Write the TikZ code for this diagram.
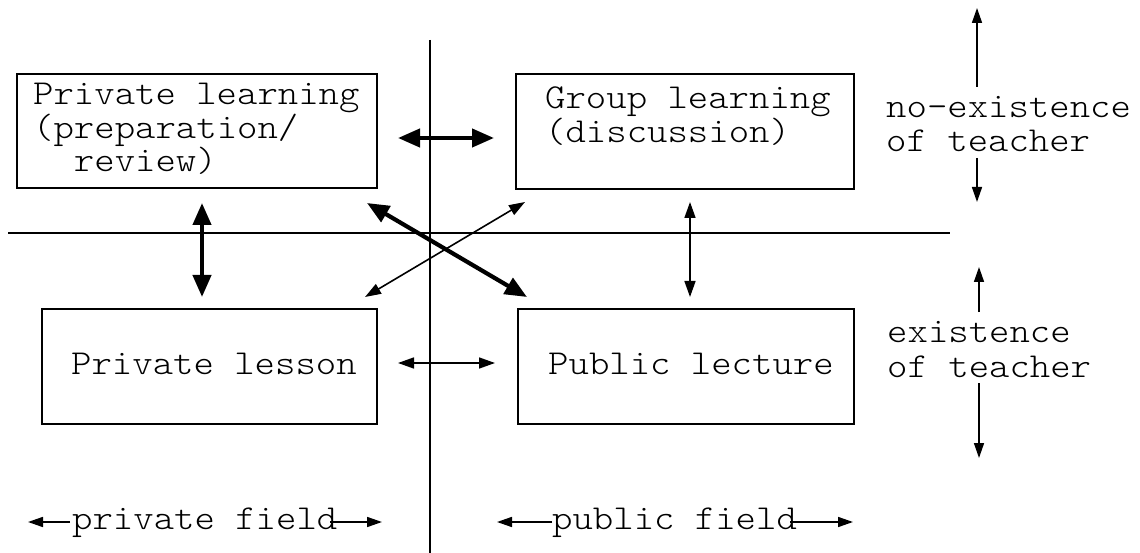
\documentclass[tikz,border=0pt]{standalone}
\usepackage{fontspec}
\newfontfamily\cour[FakeStretch=1.11]{Latin Modern Mono Light}
\usetikzlibrary{arrows.meta}

\begin{document}
\begin{tikzpicture}[x=1pt,y=-1pt,
  box/.style={draw, line width=1.8pt, rectangle, inner sep=0pt, anchor=north west},
  lbl/.style={inner sep=0pt, anchor=base west, align=left, font=\cour\fontsize{35pt}{34pt}\selectfont},
  axis/.style={line width=1.6pt},
  thickarr/.style={line width=4.2pt, {Triangle[length=22pt,width=18pt]}-{Triangle[length=22pt,width=18pt]}},
  thinarr/.style={line width=1.6pt, {Triangle[length=16pt,width=11pt]}-{Triangle[length=16pt,width=11pt]}},
  onearr/.style={line width=1.6pt, -{Triangle[length=15pt,width=10pt]}}
]
\useasboundingbox (0,0) rectangle (1140,553);

% the four kinds of learning
\node[box, minimum width=360pt, minimum height=114pt] (pl)   at (16,73)  {};
\node[box, minimum width=338pt, minimum height=115pt] (gl)   at (515,73) {};
\node[box, minimum width=335pt, minimum height=115pt] (pril) at (41,308) {};
\node[box, minimum width=336pt, minimum height=115pt] (publ) at (517,308) {};

% multi-line labels are placed by the baseline of their last line
\node[lbl, font=\cour\fontsize{35pt}{30pt}\selectfont] (plt) at (33,172)
  {Private learning\\(preparation/\\\hphantom{(p}review)};
\node[lbl] (glt) at (545,143) {Group learning\\(discussion)};
\node[lbl] (prt) at (71,374) {Private lesson};
\node[lbl] (put) at (548,374) {Public lecture};

% dividing axes
\coordinate (vtop) at (430,40);
\coordinate (vbot) at (430,553);
\coordinate (hleft) at (8,233);
\coordinate (hright) at (950,233);
\draw[axis] (vtop) -- (vbot);
\draw[axis] (hleft) -- (hright);

% relations between the kinds of learning
\coordinate (a1) at (398,138); \coordinate (b1) at (494,138);
\coordinate (a2) at (202,203); \coordinate (b2) at (202,297);
\coordinate (a3) at (690,202); \coordinate (b3) at (690,297);
\coordinate (a4) at (398,363); \coordinate (b4) at (495,363);
\coordinate (a5) at (367,203); \coordinate (b5) at (527,297);
\coordinate (a6) at (365,297); \coordinate (b6) at (525,202);
\draw[thickarr] (a1) -- (b1);
\draw[thickarr] (a2) -- (b2);
\draw[thinarr]  (a3) -- (b3);
\draw[thinarr]  (a4) -- (b4);
\draw[thickarr] (a5) -- (b5);
\draw[thinarr]  (a6) -- (b6);

% teacher presence
\node[lbl] (ne) at (886,152) {no-existence\\of teacher};
\node[lbl, font=\cour\fontsize{35pt}{35pt}\selectfont] (ex) at (887,377) {existence\\of teacher};

\coordinate (u1s) at (977,87);  \coordinate (u1e) at (977,8);
\coordinate (d1s) at (977,158); \coordinate (d1e) at (977,202);
\coordinate (u2s) at (979,312); \coordinate (u2e) at (979,267);
\coordinate (d2s) at (979,383); \coordinate (d2e) at (979,458);
\draw[onearr] (u1s) -- (u1e);
\draw[onearr] (d1s) -- (d1e);
\draw[onearr] (u2s) -- (u2e);
\draw[onearr] (d2s) -- (d2e);

% fields
\node[lbl] (pf) at (72,529) {private field};
\node[lbl] (uf) at (552,529) {public field};
\coordinate (pfl) at (70,522);  \coordinate (pfL) at (28,522);
\coordinate (pfr) at (330,522); \coordinate (pfR) at (382,522);
\coordinate (ufl) at (552,522); \coordinate (ufL) at (497,522);
\coordinate (ufr) at (790,522); \coordinate (ufR) at (853,522);
\draw[onearr] (pfl) -- (pfL);
\draw[onearr] (pfr) -- (pfR);
\draw[onearr] (ufl) -- (ufL);
\draw[onearr] (ufr) -- (ufR);
\end{tikzpicture}
\end{document}
